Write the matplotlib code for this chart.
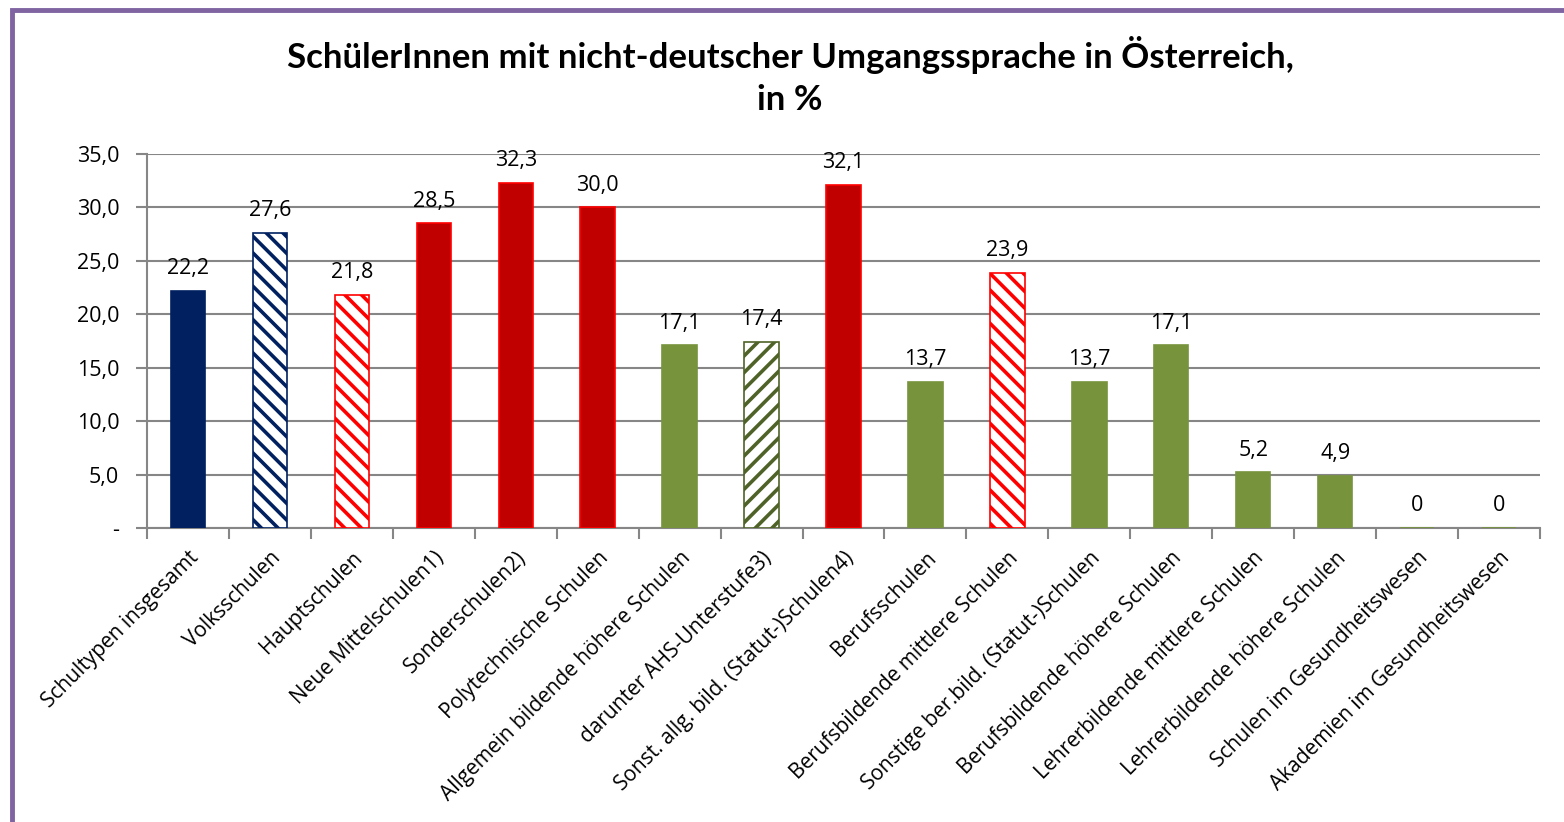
import matplotlib
matplotlib.use("Agg")
import matplotlib.pyplot as plt
from matplotlib.patches import Rectangle
import numpy as np

categories = ["Schultypen insgesamt", "Volksschulen", "Hauptschulen", "Neue Mittelschulen1)",
              "Sonderschulen2)", "Polytechnische Schulen", "Allgemein bildende höhere Schulen",
              "darunter AHS-Unterstufe3)", "Sonst. allg. bild. (Statut-)Schulen4)", "Berufsschulen",
              "Berufsbildende mittlere Schulen", "Sonstige ber.bild. (Statut-)Schulen",
              "Berufsbildende höhere Schulen", "Lehrerbildende mittlere Schulen",
              "Lehrerbildende höhere Schulen", "Schulen im Gesundheitswesen",
              "Akademien im Gesundheitswesen"]
values = [22.2, 27.6, 21.8, 28.5, 32.3, 30.0, 17.1, 17.4, 32.1, 13.7, 23.9, 13.7, 17.1, 5.2, 4.9, 0, 0]
value_labels = ["22,2", "27,6", "21,8", "28,5", "32,3", "30,0", "17,1", "17,4", "32,1", "13,7",
                "23,9", "13,7", "17,1", "5,2", "4,9", "0", "0"]
yticks = [0, 5, 10, 15, 20, 25, 30, 35]
ytick_labels = ["-", "5,0", "10,0", "15,0", "20,0", "25,0", "30,0", "35,0"]

NAVY = "#002060"
DARKRED = "#C00000"
RED = "#FF0000"
GREEN = "#77933C"
DKGREEN = "#4F6228"

# style per bar: (facecolor, edgecolor, hatch)
styles = [
    (NAVY, NAVY, None),
    ("white", NAVY, "\\\\"),
    ("white", RED, "\\\\"),
    (DARKRED, RED, None),
    (DARKRED, RED, None),
    (DARKRED, RED, None),
    (GREEN, GREEN, None),
    ("white", DKGREEN, "//"),
    (DARKRED, RED, None),
    (GREEN, GREEN, None),
    ("white", RED, "\\\\"),
    (GREEN, GREEN, None),
    (GREEN, GREEN, None),
    (GREEN, GREEN, None),
    (GREEN, GREEN, None),
    (GREEN, GREEN, None),
    (GREEN, GREEN, None),
]

plt.rcParams['font.family'] = ['Open Sans', 'DejaVu Sans']
plt.rcParams['hatch.linewidth'] = 2.6

fig = plt.figure(figsize=(15.64, 8.22), dpi=100)
ax = fig.add_axes([147/1564, 1-528/822, (1540-147)/1564, (528-154)/822])

x = np.arange(len(categories))
for i, (v, (fc, ec, h)) in enumerate(zip(values, styles)):
    ax.bar(x[i], v, width=0.42, facecolor=fc, edgecolor=ec, hatch=h, linewidth=1.2, zorder=3)
    ax.text(x[i], v + 1.1, value_labels[i], ha="center", va="bottom", fontsize=15.5, color="black", zorder=4)

ax.set_xlim(-0.5, len(categories) - 0.5)
ax.set_ylim(0, 35)
ax.set_yticks(yticks)
ax.set_yticklabels(ytick_labels, fontsize=15.5)
ax.yaxis.grid(True, color="#868686", linewidth=1.5, zorder=0)
ax.set_axisbelow(True)

ax.set_xticks(x)
ax.set_xticklabels(categories, rotation=45, ha="right", rotation_mode="anchor", fontsize=15)
ax.set_xticks(np.arange(-0.5, len(categories)), minor=True)
ax.tick_params(axis="x", which="major", length=0, pad=14)
ax.tick_params(axis="x", which="minor", length=8, width=1.5, color="#868686", direction="out")
ax.tick_params(axis="y", length=8, width=1.5, color="#868686", pad=12)

for s in ["top", "right"]:
    ax.spines[s].set_visible(False)
for s in ["left", "bottom"]:
    ax.spines[s].set_color("#868686")
    ax.spines[s].set_linewidth(1.5)

fig.text(790/1564, 1-55/822, "SchülerInnen mit nicht-deutscher Umgangssprache in Österreich,",
         ha="center", va="center", fontsize=25, fontweight="bold", family=["Lato", "DejaVu Sans"])
fig.text(790/1564, 1-100/822, "in %", ha="center", va="center", fontsize=25, fontweight="bold",
         family=["Lato", "DejaVu Sans"])

fig.patches.append(Rectangle((12/1564, -0.1), 1.2, 1 - 10/822 + 0.1, transform=fig.transFigure,
                             fill=False, edgecolor="#8064A2", linewidth=3.5, zorder=10))

fig.savefig("out.png", dpi=100)
